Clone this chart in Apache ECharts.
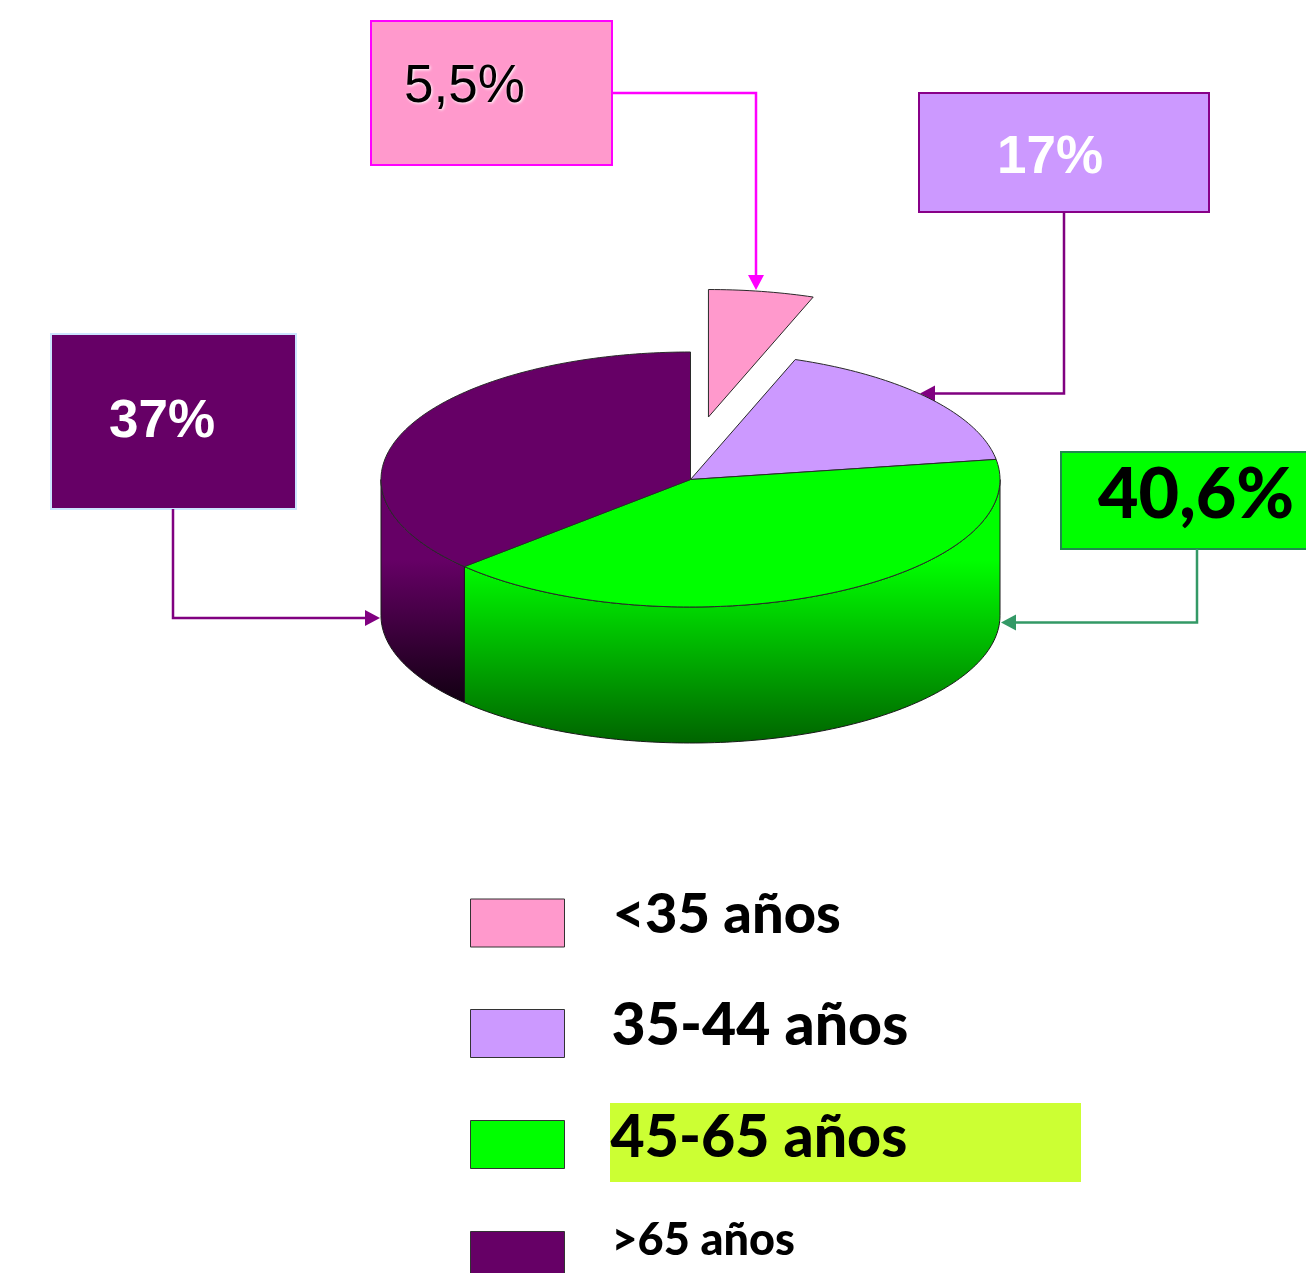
<!DOCTYPE html>
<html><head><meta charset="utf-8">
<style>html,body{margin:0;padding:0;background:#fff;overflow:hidden}#c{width:1306px;height:1273px}</style>
<script src="https://cdn.jsdelivr.net/npm/echarts@6/dist/echarts.min.js"></script>
</head><body><div id="c"></div>
<script>
const categories = ['<35 años', '35-44 años', '45-65 años', '>65 años'];
const values = [5.5, 17, 40.6, 37];
const valueLabels = ['5,5%', '17%', '40,6%', '37%'];
const colors = ['#ff99cc', '#cc99ff', '#00ff00', '#660066'];
const sideColors = [null, null, ['#00ff00', '#006400'], ['#660066', '#120012']];
const exploded = [[0.058, 0.49], [0, 0], [0, 0], [0, 0]];
const legendTops = [887, 996, 1108, 1218];

const DEPTH = 136;
const total = values.reduce((a, b) => a + b, 0);
const starts = values.map((_, i) => values.slice(0, i).reduce((a, b) => a + b, 0));
const toAngle = v => v / total * 2 * Math.PI;

function arcPoints(api, a0, a1, ox, oy, dy) {
  const n = Math.max(2, Math.ceil(Math.abs(a1 - a0) / 0.02));
  const pts = [];
  for (let k = 0; k <= n; k++) {
    const t = a0 + (a1 - a0) * k / n;
    const p = api.coord([Math.sin(t) + ox, Math.cos(t) + oy]);
    pts.push([p[0], p[1] + dy]);
  }
  return pts;
}

function sliceRenderer(i) {
  return function (params, api) {
    const a0 = toAngle(starts[i]);
    const a1 = toAngle(starts[i] + api.value(1));
    const ox = exploded[i][0], oy = exploded[i][1];
    const children = [];
    const v0 = Math.max(a0, Math.PI / 2), v1 = Math.min(a1, 3 * Math.PI / 2);
    if (sideColors[i] && v1 > v0) {
      const upper = arcPoints(api, v0, v1, ox, oy, 0);
      const lower = arcPoints(api, v1, v0, ox, oy, DEPTH);
      const yTop = api.coord([0, 0])[1] + 80;
      const yEnd = Math.max.apply(null, lower.map(p => p[1]));
      children.push({
        type: 'polygon',
        shape: { points: upper.concat(lower) },
        style: {
          fill: { type: 'linear', x: 0, y: yTop, x2: 0, y2: yEnd, global: true,
                  colorStops: [{ offset: 0, color: sideColors[i][0] }, { offset: 1, color: sideColors[i][1] }] },
          stroke: '#1a1a1a', lineWidth: 1
        }
      });
    }
    const centre = api.coord([ox, oy]);
    children.push({
      type: 'polygon',
      shape: { points: [centre].concat(arcPoints(api, a0, a1, ox, oy, 0)) },
      style: { fill: colors[i], stroke: '#2a2a2a', lineWidth: 1, lineJoin: 'round' }
    });
    return { type: 'group', children };
  };
}

function box(x, y, w, h, fill, stroke) {
  return { type: 'rect', shape: { x, y, width: w, height: h }, style: { fill, stroke, lineWidth: 2 }, silent: true };
}
function leader(points, color) {
  const last = points[points.length - 1], prev = points[points.length - 2];
  const dx = Math.sign(last[0] - prev[0]), dy = Math.sign(last[1] - prev[1]);
  const base = [last[0] - dx * 15, last[1] - dy * 15];
  return [
    { type: 'polyline', shape: { points: points.slice(0, -1).concat([base]) }, style: { fill: null, stroke: color, lineWidth: 2.5 }, silent: true },
    { type: 'polygon', shape: { points: [last, [base[0] + dy * 8, base[1] + dx * 8], [base[0] - dy * 8, base[1] - dx * 8]] }, style: { fill: color }, silent: true }
  ];
}
function label(text, x, y, size, weight, family, color, shadow) {
  const style = { text, x, y, fill: color, font: weight + ' ' + size + 'px ' + family, textAlign: 'left', textVerticalAlign: 'middle' };
  if (shadow) { style.textShadowColor = shadow; style.textShadowBlur = 3; style.textShadowOffsetX = 1; style.textShadowOffsetY = 1; }
  return { type: 'text', style, silent: true, z: 10 };
}

const ARIAL = '"Liberation Sans", Arial, sans-serif';
const COMIC = 'Lato, "Noto Sans", sans-serif';

const legendRich = {
  a: { fontFamily: COMIC, fontWeight: 900, fontSize: 56, lineHeight: 32, color: '#000', padding: [0, 0, 16, 43] },
  b: { fontFamily: COMIC, fontWeight: 900, fontSize: 59, lineHeight: 32, color: '#000', padding: [0, 0, 16, 42] },
  c: { fontFamily: COMIC, fontWeight: 900, fontSize: 59, lineHeight: 32, color: '#000', padding: [0, 0, 14, 41] },
  d: { fontFamily: COMIC, fontWeight: 900, fontSize: 45, lineHeight: 18, color: '#000', padding: [0, 0, 30, 42] }
};
const richKeys = ['a', 'b', 'c', 'd'];

const chart = echarts.init(document.getElementById('c'), null, { renderer: 'canvas', width: 1306, height: 1273 });
chart.setOption({
  animation: false,
  backgroundColor: '#ffffff',
  grid: { left: 381, width: 619, top: 352, height: 255, containLabel: false },
  xAxis: { type: 'value', min: -1, max: 1, show: false },
  yAxis: { type: 'value', min: -1, max: 1, show: false },
  legend: categories.map((name, i) => ({
    orient: 'vertical', left: 470, top: legendTops[i], padding: 0, height: 100,
    itemWidth: 94, itemHeight: 48, selectedMode: false, icon: 'rect',
    itemStyle: { borderColor: '#333', borderWidth: 1 },
    data: [name],
    formatter: n => '{' + richKeys[i] + '|' + n + '}',
    textStyle: { rich: legendRich }
  })),
  graphic: { elements: [
    { type: 'rect', z: -1, shape: { x: 610, y: 1103, width: 471, height: 79 }, style: { fill: '#ccff33' }, silent: true },
    box(371, 21, 241, 144, colors[0], '#ff00ff'),
    box(919, 93, 290, 119, colors[1], '#880088'),
    box(1061, 452, 247, 97, colors[2], '#1f8a4c'),
    box(51, 334, 245, 175, colors[3], '#cce5ff'),
    ...leader([[612, 93], [756, 93], [756, 290]], '#ff00ff'),
    ...leader([[1064, 212], [1064, 393.5], [920, 393.5]], '#800080'),
    ...leader([[1197, 549], [1197, 622.5], [1001, 622.5]], '#339966'),
    ...leader([[173, 509], [173, 618], [380, 618]], '#800080'),
    label(valueLabels[0], 404, 87, 53, 'normal', ARIAL, '#000', '#ffffff'),
    label(valueLabels[1], 997, 158, 53, 'bold', ARIAL, '#fff'),
    label(valueLabels[2], 1098, 495, 70, 900, COMIC, '#000'),
    label(valueLabels[3], 109, 422, 53, 'bold', ARIAL, '#fff')
  ] },
  series: categories.map((name, i) => ({
    type: 'custom', name, coordinateSystem: 'cartesian2d',
    itemStyle: { color: colors[i] },
    renderItem: sliceRenderer(i),
    encode: { x: 0, y: 1 },
    silent: true,
    data: [[i, values[i]]]
  }))
});
</script></body></html>
